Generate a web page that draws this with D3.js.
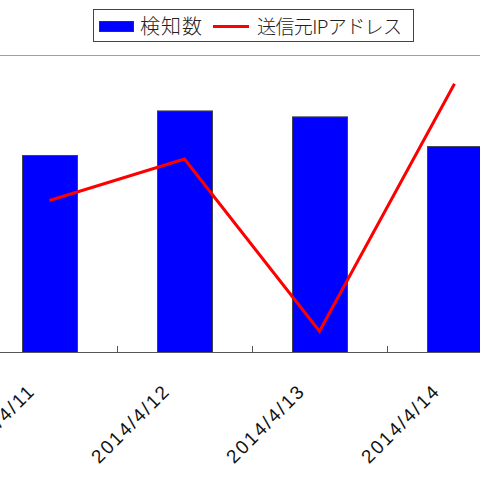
<!DOCTYPE html>
<html>
<head>
<meta charset="utf-8">
<script src="https://cdn.jsdelivr.net/npm/d3@7"></script>
<style>
  html, body { margin: 0; padding: 0; background: #fff; }
  svg { display: block; }
</style>
</head>
<body>
<div class="chart"></div>
<script>
// data (y axis is not visible, so the scale is arbitrary)
var dates = ["2014/4/11", "2014/4/12", "2014/4/13", "2014/4/14"];
var detections = [199, 244, 238, 208];   // 検知数
var sourceIPs = [153, 195, 21, 271];     // 送信元IPアドレス
var legendLabels = ["検知数", "送信元IPアドレス"];

var width = 480, height = 480;
var plotTop = 55, plotBottom = 352;

var svg = d3.select(".chart").append("svg")
    .attr("width", width)
    .attr("height", height);

// band scale is wider than the window - the left and right edges are cut off
var x = d3.scaleBand()
    .domain(dates)
    .range([-18, 522])
    .padding(0);

var y = d3.scaleLinear()
    .domain([0, 300])
    .range([plotBottom, plotTop]);

var barWidth = 55;

// top border of plot area
svg.append("line")
    .attr("x1", 0).attr("x2", width)
    .attr("y1", plotTop + 0.5).attr("y2", plotTop + 0.5)
    .attr("stroke", "#a0a0a0")
    .attr("stroke-width", 1);

// bars
svg.selectAll(".bar")
    .data(dates)
  .enter().append("rect")
    .attr("class", "bar")
    .attr("x", function(d) { return x(d) + x.bandwidth() / 2 - barWidth / 2 + 0.5; })
    .attr("y", function(d, i) { return y(detections[i]) + 0.5; })
    .attr("width", barWidth)
    .attr("height", function(d, i) { return plotBottom - y(detections[i]); })
    .attr("fill", "#0000ff")
    .attr("stroke", "#444")
    .attr("stroke-width", 1);

// red line
var line = d3.line()
    .x(function(d, i) { return x(dates[i]) + x.bandwidth() / 2; })
    .y(function(d) { return y(d); });

svg.append("path")
    .datum(sourceIPs)
    .attr("d", line)
    .attr("fill", "none")
    .attr("stroke", "#ff0000")
    .attr("stroke-width", 3)
    .attr("stroke-linejoin", "miter");

// x axis: ticks between categories, pointing up
var axis = svg.append("g")
    .attr("transform", "translate(0," + plotBottom + ")");

axis.append("line")
    .attr("x1", 0).attr("x2", width)
    .attr("y1", 0.5).attr("y2", 0.5)
    .attr("stroke", "#555")
    .attr("stroke-width", 1);

axis.selectAll(".tick")
    .data(dates.slice(1))
  .enter().append("line")
    .attr("class", "tick")
    .attr("x1", function(d) { return Math.round(x(d)) + 0.5; })
    .attr("x2", function(d) { return Math.round(x(d)) + 0.5; })
    .attr("y1", -6).attr("y2", 0)
    .attr("stroke", "#555");

axis.selectAll(".label")
    .data(dates)
  .enter().append("text")
    .attr("class", "label")
    .attr("transform", function(d) {
      return "translate(" + (x(d) + x.bandwidth() / 2 - 13) + ",40) rotate(-45)";
    })
    .attr("text-anchor", "end")
    .style("font-family", "Arial, 'Liberation Sans', sans-serif")
    .style("font-size", "19px")
    .style("letter-spacing", "2px")
    .style("fill", "#111")
    .text(function(d) { return d; });

// legend
var legend = svg.append("g");

legend.append("rect")
    .attr("x", 93.5).attr("y", 9.5)
    .attr("width", 320).attr("height", 32)
    .attr("fill", "#fff")
    .attr("stroke", "#444");

legend.append("rect")
    .attr("x", 99.5).attr("y", 21.5)
    .attr("width", 34).attr("height", 10)
    .attr("fill", "#0000ff")
    .attr("stroke", "#333");

legend.append("line")
    .attr("x1", 213).attr("x2", 249)
    .attr("y1", 26.5).attr("y2", 26.5)
    .attr("stroke", "#ff0000")
    .attr("stroke-width", 3);

legend.selectAll(".legtext")
    .data(legendLabels)
  .enter().append("text")
    .attr("class", "legtext")
    .attr("x", function(d, i) { return i == 0 ? 140 : 257; })
    .attr("y", 34)
    .style("font-family", "'Noto Sans CJK JP', sans-serif")
    .style("font-size", function(d, i) { return i == 0 ? "20px" : "19px"; })
    .style("letter-spacing", function(d, i) { return i == 0 ? "1px" : "-0.6px"; })
    .style("font-weight", 300)
    .style("fill", "#222")
    .text(function(d) { return d; });
</script>
</body>
</html>
